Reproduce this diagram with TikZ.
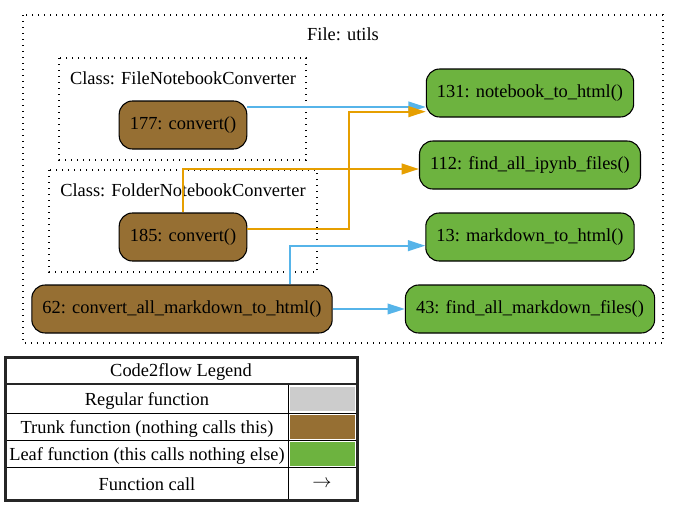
\documentclass[tikz,border=0pt]{standalone}
\usepackage{fontspec}
\setmainfont{Liberation Serif}
\usetikzlibrary{arrows.meta}
\definecolor{trunk}{HTML}{966F33}
\definecolor{leaf}{HTML}{6DB33F}
\definecolor{regular}{HTML}{CCCCCC}
\definecolor{callblue}{HTML}{56B4E9}
\definecolor{callorange}{HTML}{E69F00}
\tikzset{
  func/.style={draw=black, line width=0.8pt, rounded corners=10pt,
    minimum height=36pt, inner xsep=8pt},
  cluster/.style={line width=0.9pt, dash pattern=on 0.9pt off 3.6pt},
  call/.style={line width=1.5pt, -{Triangle[length=13pt,width=8pt]}},
}
\begin{document}
\begin{tikzpicture}[x=0.75pt,y=-0.75pt,font=\fontsize{13.8}{16}\selectfont]
  \useasboundingbox (0,0) rectangle (679,507);

  % Clusters
  \draw[cluster] (23,15) rectangle (663,343);
  \draw[cluster] (59,58) rectangle (306,160);
  \draw[cluster] (49,170) rectangle (317,272);
  \node (lfile) at (343,34) {File: utils};
  \node (lfnc) at (183,78) {Class: FileNotebookConverter};
  \node (lfoc) at (183,190) {Class: FolderNotebookConverter};

  % Functions
  \node[func,fill=trunk] (c177) at (183,125) {177: convert()};
  \node[func,fill=trunk] (c185) at (183,237) {185: convert()};
  \node[func,fill=trunk] (c62) at (182,309) {62: convert\_all\_markdown\_to\_html()};
  \node[func,fill=leaf] (n131) at (530,93) {131: notebook\_to\_html()};
  \node[func,fill=leaf] (n112) at (530,165) {112: find\_all\_ipynb\_files()};
  \node[func,fill=leaf] (n13) at (530,237) {13: markdown\_to\_html()};
  \node[func,fill=leaf] (n43) at (530,309) {43: find\_all\_markdown\_files()};

  % Calls
  \draw[call,callblue] ([yshift=13.5pt]c177.east) -- ([yshift=-10.5pt]n131.west);
  \draw[call,callorange] ([yshift=6pt]c185.east) -- ++(102,0) |- ([yshift=-14pt]n131.west);
  \draw[call,callorange] (c185.north) |- ([yshift=-3pt]n112.west);
  \draw[call,callblue] ([xshift=81pt]c62.north) |- ([yshift=-6.5pt]n13.west);
  \draw[call,callblue] (c62.east) -- (n43.west);

  % Legend
  \node (lghead) at (181,372) {Code2flow Legend};
  \foreach \y/\t/\c [count=\i] in {
    399/{Regular function}/regular,
    427/{Trunk function (nothing calls this)}/trunk,
    454/{Leaf function (this calls nothing else)}/leaf}{
    \node (lgt\i) at (147,\y+2) {\t};
    \fill[\c] (290,\y-12) rectangle (355,\y+12);
  }
  \node (lgt4) at (147,484) {Function call};
  \node (lgarrow) at (322,484) {$\rightarrow$};
  \foreach \y in {413.5,440.5,467.5}
    \draw[line width=0.75pt] (7,\y) -- (356,\y);
  \draw[line width=0.75pt] (288,385) -- (288,499);
  \draw[line width=2pt,black!85] (5.5,357.5) rectangle (357.5,500.5);
  \draw[line width=2pt,black!85] (5.5,384) -- (357.5,384);
\end{tikzpicture}
\end{document}
